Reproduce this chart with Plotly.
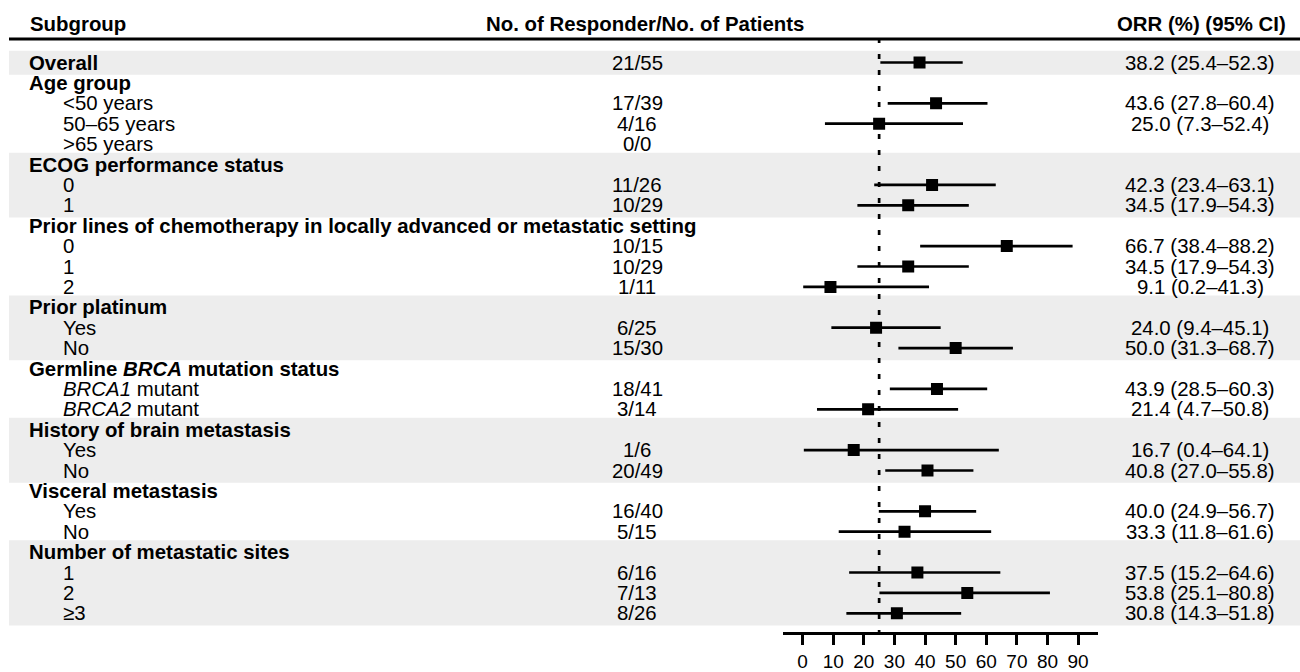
import plotly.graph_objects as go

# ---------------- data ----------------
labels = [
    "Overall", "Age group", "<50 years", "50–65 years", ">65 years",
    "ECOG performance status", "0", "1",
    "Prior lines of chemotherapy in locally advanced or metastatic setting", "0", "1", "2",
    "Prior platinum", "Yes", "No",
    "Germline <i>BRCA</i> mutation status", "<i>BRCA1</i> mutant", "<i>BRCA2</i> mutant",
    "History of brain metastasis", "Yes", "No",
    "Visceral metastasis", "Yes", "No",
    "Number of metastatic sites", "1", "2", "≥3",
]
is_header = [1, 1, 0, 0, 0, 1, 0, 0, 1, 0, 0, 0, 1, 0, 0, 1, 0, 0, 1, 0, 0, 1, 0, 0, 1, 0, 0, 0]
responders = ["21/55", "", "17/39", "4/16", "0/0", "", "11/26", "10/29", "", "10/15", "10/29", "1/11",
              "", "6/25", "15/30", "", "18/41", "3/14", "", "1/6", "20/49", "", "16/40", "5/15",
              "", "6/16", "7/13", "8/26"]
orr = [38.2, None, 43.6, 25.0, None, None, 42.3, 34.5, None, 66.7, 34.5, 9.1,
       None, 24.0, 50.0, None, 43.9, 21.4, None, 16.7, 40.8, None, 40.0, 33.3,
       None, 37.5, 53.8, 30.8]
ci_low = [25.4, None, 27.8, 7.3, None, None, 23.4, 17.9, None, 38.4, 17.9, 0.2,
          None, 9.4, 31.3, None, 28.5, 4.7, None, 0.4, 27.0, None, 24.9, 11.8,
          None, 15.2, 25.1, 14.3]
ci_high = [52.3, None, 60.4, 52.4, None, None, 63.1, 54.3, None, 88.2, 54.3, 41.3,
           None, 45.1, 68.7, None, 60.3, 50.8, None, 64.1, 55.8, None, 56.7, 61.6,
           None, 64.6, 80.8, 51.8]
shaded_groups = [(0, 0), (5, 7), (12, 14), (18, 20), (24, 27)]
reference_orr = 25
tick_values = [0, 10, 20, 30, 40, 50, 60, 70, 80, 90]

# ---------------- layout constants ----------------
W, H = 1300, 672
ROW0_PX, ROW_PX = 62.5, 20.4
y_top = -ROW0_PX / ROW_PX
y_bot = (H - ROW0_PX) / ROW_PX
FONT = "Liberation Sans, Arial, Helvetica, sans-serif"
FS = 20.4

n = len(labels)
rows = list(range(n))

fig = go.Figure()

# CI lines
xs, ys = [], []
for i in rows:
    if orr[i] is not None:
        xs += [ci_low[i], ci_high[i], None]
        ys += [i, i, None]
fig.add_trace(go.Scatter(x=xs, y=ys, mode="lines", line=dict(color="black", width=2.7),
                         hoverinfo="skip", showlegend=False))

# reference dotted line
fig.add_trace(go.Scatter(x=[reference_orr, reference_orr], y=[-1.2, 27.98], mode="lines",
                         line=dict(color="black", width=2.7, dash="5px,11px"),
                         hoverinfo="skip", showlegend=False))

# point estimates
px_ = [orr[i] for i in rows if orr[i] is not None]
py_ = [i for i in rows if orr[i] is not None]
fig.add_trace(go.Scatter(x=px_, y=py_, mode="markers",
                         marker=dict(symbol="square", size=12, color="black"),
                         showlegend=False))

shapes = []
for a, b in shaded_groups:
    shapes.append(dict(type="rect", xref="paper", yref="y", x0=9 / W, x1=1, y0=a - 0.58, y1=b + 0.6,
                       fillcolor="#EDEDED", line=dict(width=0), layer="below"))
# header rule
shapes.append(dict(type="line", xref="paper", yref="y", x0=9 / W, x1=1, y0=-1.15, y1=-1.15,
                   line=dict(color="black", width=3)))

ann = []
hy = -1.89
ann.append(dict(x=28 / W, y=hy, xref="paper", yref="y", text="<b>Subgroup</b>", xanchor="left",
                yanchor="middle", showarrow=False, font=dict(size=FS, family=FONT, color="black")))
ann.append(dict(x=645 / W, y=hy, xref="paper", yref="y", text="<b>No. of Responder/No. of Patients</b>",
                xanchor="center", yanchor="middle", showarrow=False,
                font=dict(size=FS, family=FONT, color="black")))
ann.append(dict(x=1201 / W, y=hy, xref="paper", yref="y", text="<b>ORR (%) (95% CI)</b>",
                xanchor="center", yanchor="middle", showarrow=False,
                font=dict(size=FS, family=FONT, color="black")))

for i in rows:
    if is_header[i]:
        ann.append(dict(x=28 / W, y=i, xref="paper", yref="y", text="<b>" + labels[i] + "</b>",
                        xanchor="left", yanchor="middle", showarrow=False, borderpad=0,
                        font=dict(size=FS, family=FONT, color="black")))
    else:
        ann.append(dict(x=62 / W, y=i, xref="paper", yref="y", text=labels[i],
                        xanchor="left", yanchor="middle", showarrow=False, borderpad=0,
                        font=dict(size=FS, family=FONT, color="black")))
    if responders[i]:
        ann.append(dict(x=637 / W, y=i, xref="paper", yref="y", text=responders[i],
                        xanchor="center", yanchor="middle", showarrow=False, borderpad=0,
                        font=dict(size=FS, family=FONT, color="black")))
    if orr[i] is not None:
        txt = f"{orr[i]:.1f} ({ci_low[i]:.1f}–{ci_high[i]:.1f})"
        ann.append(dict(x=1200 / W, y=i, xref="paper", yref="y", text=txt,
                        xanchor="center", yanchor="middle", showarrow=False, borderpad=0,
                        font=dict(size=FS, family=FONT, color="black")))

fig.update_layout(
    width=W, height=H, margin=dict(l=0, r=0, t=0, b=0),
    paper_bgcolor="white", plot_bgcolor="rgba(0,0,0,0)",
    shapes=shapes, annotations=ann, showlegend=False,
    xaxis=dict(domain=[782.7 / W, 1098 / W], range=[-6.5, 96.5], anchor="free",
               position=(H - 633) / H, showgrid=False, zeroline=False,
               showline=True, linecolor="black", linewidth=3,
               ticks="outside", ticklen=10, tickwidth=2.7, tickcolor="black",
               tickvals=tick_values, ticktext=[str(v) for v in tick_values],
               tickfont=dict(size=19, family=FONT, color="black"), fixedrange=True),
    yaxis=dict(domain=[0, 1], range=[y_bot, y_top], visible=False, showgrid=False,
               zeroline=False, fixedrange=True),
)

fig.write_html("out.html", config={"displayModeBar": False},
               post_script="document.body.style.margin='0';document.body.style.overflow='hidden';")
